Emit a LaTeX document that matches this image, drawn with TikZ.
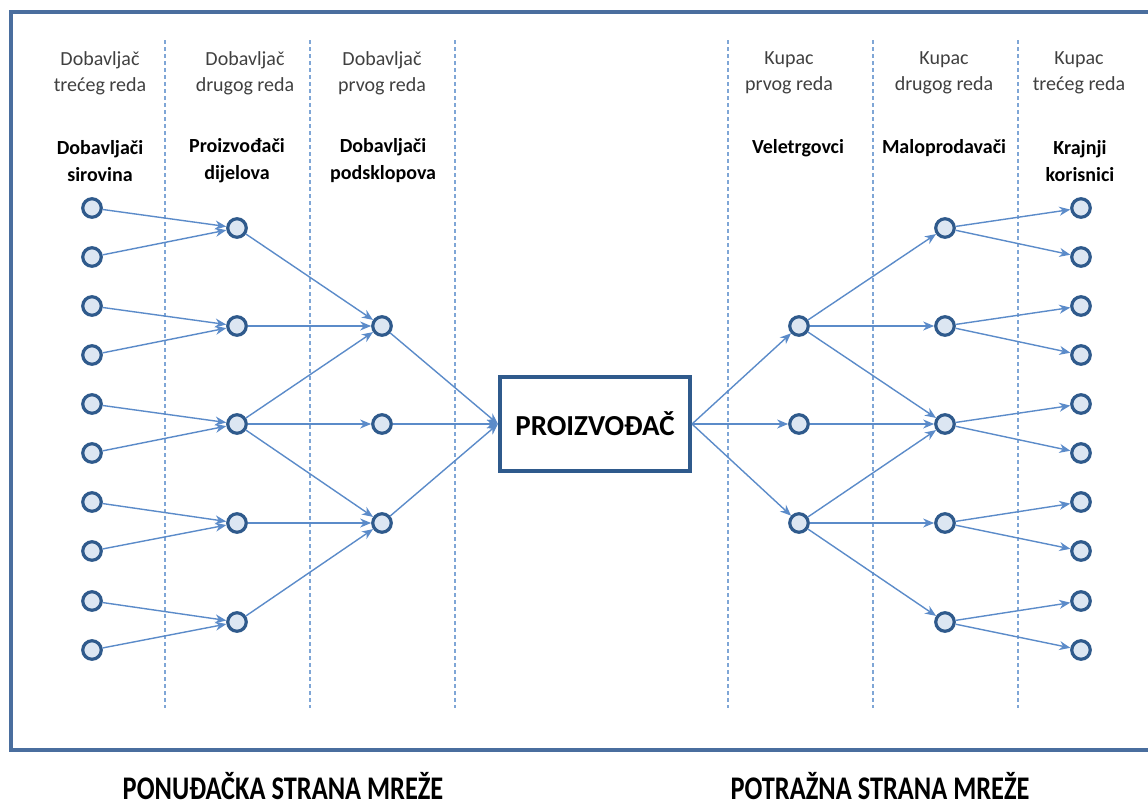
\documentclass[tikz,border=0pt]{standalone}
\usepackage{fontspec}
\setmainfont{Carlito}
\usetikzlibrary{arrows.meta}
\definecolor{framec}{HTML}{4A6E9E}
\definecolor{nodeb}{HTML}{2F5A8C}
\definecolor{nodef}{HTML}{DCE6F2}
\definecolor{arrc}{HTML}{5B8BC9}
\definecolor{dashc}{HTML}{7FA6D6}
\definecolor{headc}{HTML}{404040}
\begin{document}
\begin{tikzpicture}[x=1pt,y=-1pt,
 dot/.style={circle,draw=nodeb,fill=nodef,line width=3.2pt,minimum size=18.5pt,inner sep=0pt},
 conn/.style={draw=arrc,line width=1.4pt,-{Stealth[length=11pt,width=9pt,inset=3.5pt]}},
 sepline/.style={draw=dashc,line width=1.2pt,dash pattern=on 4pt off 3pt},
 head/.style={font=\fontsize{20}{26}\selectfont,text=headc,align=center,inner sep=0pt},
 role/.style={font=\fontsize{20}{27}\selectfont\bfseries,text=black,align=center,inner sep=0pt},
 mainbox/.style={draw=nodeb,line width=4pt,fill=white,minimum width=190pt,minimum height=94pt,font=\fontsize{29}{29}\selectfont\bfseries,inner sep=0pt},
 side/.style={font=\fontsize{33}{33}\selectfont\bfseries,inner sep=0pt,anchor=base}
]
\useasboundingbox (0,0) rectangle (1148,809);
\begin{scope}
\clip (0,0) rectangle (1148,809);
\draw[framec,line width=4pt] (11,12) rectangle (1170,750);
\end{scope}

% separators
\foreach \x in {165,310,455,728,873,1018}
  \draw[sepline] (\x,40) -- (\x,708);

% headers
\node[head] (h1) at (100,73) {Dobavljač\\trećeg reda};
\node[head] (h2) at (245,73) {Dobavljač\\drugog reda};
\node[head] (h3) at (382,73) {Dobavljač\\prvog reda};
\node[head] (h4) at (789,73) {Kupac\\prvog reda};
\node[head] (h5) at (944,73) {Kupac\\drugog reda};
\node[head] (h6) at (1079,73) {Kupac\\trećeg reda};

\node[role] (r1) at (100,161) {Dobavljači\\sirovina};
\node[role] (r2) at (237,161) {Proizvođači\\dijelova};
\node[role] (r3) at (383,161) {Dobavljači\\podsklopova};
\node[role] (r4) at (798,148) {Veletrgovci};
\node[role] (r5) at (944,148) {Maloprodavači};
\node[role] (r6) at (1080,161) {Krajnji\\korisnici};

% nodes
\foreach \i/\y in {1/208,2/257,3/306,4/355,5/404,6/453,7/502,8/551,9/601,10/650}{
  \node[dot] (a\i) at (92,\y) {};
  \node[dot] (f\i) at (1081,\y) {};
}
\foreach \i/\y in {1/228,2/326,3/424,4/523,5/622}{
  \node[dot] (b\i) at (237,\y) {};
  \node[dot] (e\i) at (945,\y) {};
}
\foreach \i/\y in {1/326,2/424,3/523}{
  \node[dot] (c\i) at (382,\y) {};
  \node[dot] (d\i) at (799,\y) {};
}
\node[mainbox] (P) at (595,424) {PROIZVOĐAČ};

% edges
\foreach \i in {1,...,5}{
  \pgfmathtruncatemacro{\ja}{2*\i-1}
  \pgfmathtruncatemacro{\jb}{2*\i}
  \draw[conn] (a\ja) -- (b\i);
  \draw[conn] (a\jb) -- (b\i);
  \draw[conn] (e\i) -- (f\ja);
  \draw[conn] (e\i) -- (f\jb);
}
\foreach \s/\t in {b1/c1,b2/c1,b3/c1,b3/c2,b3/c3,b4/c3,b5/c3,d1/e1,d1/e2,d1/e3,d2/e3,d3/e3,d3/e4,d3/e5}
  \draw[conn] (\s) -- (\t);
\foreach \i in {1,2,3}{
  \draw[conn] (c\i) -- (P.west);
  \draw[conn] (P.east) -- (d\i);
}

% bottom labels
\node[side] (s1) at (283,799) {\scalebox{0.8}[1]{PONUĐAČKA STRANA MREŽE}};
\node[side] (s2) at (880,799) {\scalebox{0.8}[1]{POTRAŽNA STRANA MREŽE}};
\end{tikzpicture}
\end{document}
